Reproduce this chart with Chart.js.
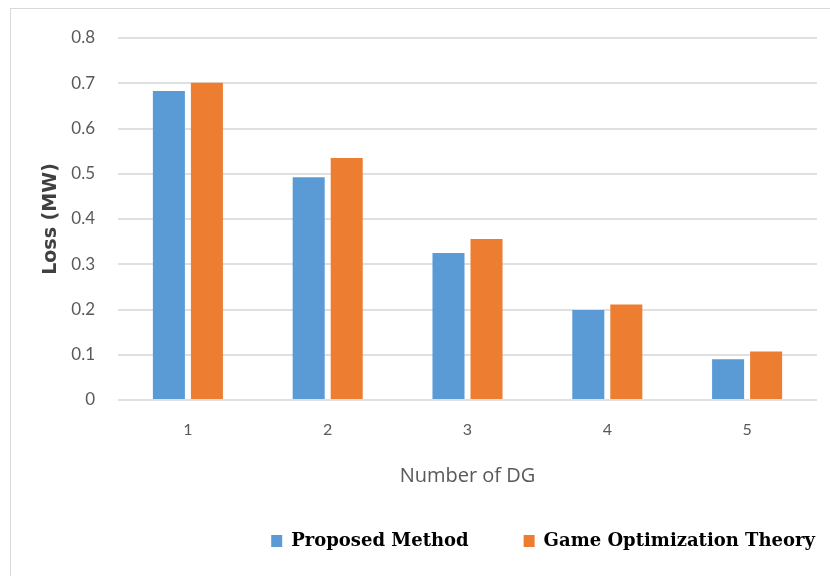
<!DOCTYPE html>
<html>
<head>
<meta charset="utf-8">
<script src="https://cdn.jsdelivr.net/npm/chart.js@4.4.1/dist/chart.umd.min.js"></script>
<style>
  html, body { margin: 0; padding: 0; background: #fff; }
  #wrap { position: relative; width: 830px; height: 576px; }
  #frame { position: absolute; left: 10px; top: 8px; right: 0; bottom: 0;
           border-left: 1px solid #d9d9d9; border-top: 1px solid #d9d9d9; }
  canvas { position: absolute; left: 0; top: 0; }
</style>
</head>
<body>
<div id="wrap">
  <div id="frame"></div>
  <canvas id="c" width="830" height="576"></canvas>
</div>
<script>
const categories = ['1', '2', '3', '4', '5'];
const proposedMethod = [0.683, 0.492, 0.325, 0.199, 0.090];
const gameOptimization = [0.701, 0.535, 0.356, 0.211, 0.107];
const seriesNames = ['Proposed Method', 'Game Optimization Theory'];
const yTitle = 'Loss (MW)';
const xTitle = 'Number of DG';

const grey = '#595959';

// shift the (end-aligned) legend so that its last item ends near the right edge
const legendShift = {
  id: 'legendShift',
  afterLayout(chart) {
    if (chart.legend) { chart.legend.left += 53; chart.legend.right += 53; }
  }
};

new Chart(document.getElementById('c'), {
  type: 'bar',
  data: {
    labels: categories,
    datasets: [
      { label: seriesNames[0], data: proposedMethod, backgroundColor: '#5B9BD5',
        categoryPercentage: 0.544, barPercentage: 0.842 },
      { label: seriesNames[1], data: gameOptimization, backgroundColor: '#ED7D31',
        categoryPercentage: 0.544, barPercentage: 0.842 }
    ]
  },
  plugins: [legendShift],
  options: {
    responsive: false,
    animation: false,
    layout: { padding: { left: 0, right: 13, top: 38, bottom: 19 } },
    plugins: {
      tooltip: { enabled: false },
      legend: {
        position: 'bottom',
        align: 'end',
        maxHeight: 80,
        labels: {
          boxWidth: 11, boxHeight: 12, padding: 55,
          color: '#000',
          font: { family: '"DejaVu Serif", serif', size: 18, weight: 'bold' }
        }
      }
    },
    scales: {
      x: {
        grid: { display: false, drawTicks: false },
        border: { display: false },
        ticks: { color: grey, padding: 20, font: { family: 'Lato, sans-serif', size: 16 } },
        title: { display: true, text: xTitle, color: grey,
                 padding: { top: 0, bottom: -11 },
                 font: { family: '"Open Sans", sans-serif', size: 20 } },
        afterFit: (s) => { s.height = 77; }
      },
      y: {
        min: 0, max: 0.8,
        grid: { color: '#e0e0e0', lineWidth: 2, drawTicks: false },
        border: { display: false },
        ticks: { stepSize: 0.1, color: grey, padding: 23,
                 font: { family: 'Lato, sans-serif', size: 17 },
                 callback: (v) => (Math.round(v * 10) / 10).toString() },
        title: { display: true, text: yTitle, color: '#404040',
                 padding: { top: 39.6, bottom: 0 },
                 font: { family: '"DejaVu Sans", sans-serif', size: 19, weight: 'bold' } },
        afterFit: (s) => { s.width = 118; }
      }
    }
  }
});
</script>
</body>
</html>
